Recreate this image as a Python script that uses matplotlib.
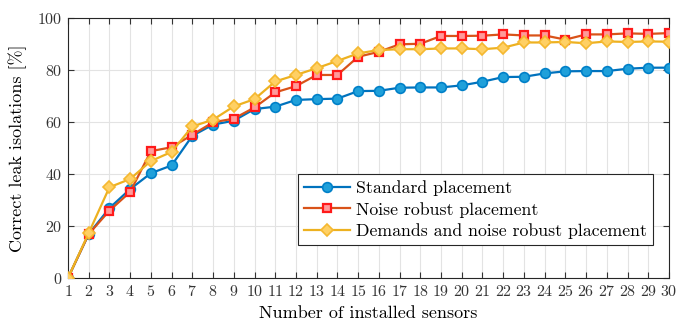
import matplotlib
matplotlib.use('Agg')
import matplotlib.pyplot as plt

sensors = list(range(1, 31))

standard = [0, 16.9, 26.9, 34.2, 40.3, 43.3, 54.7, 59.0, 60.5, 65.0,
            65.9, 68.5, 68.8, 69.0, 71.9, 72.0, 73.2, 73.3, 73.3, 74.1,
            75.5, 77.3, 77.4, 78.7, 79.5, 79.6, 79.6, 80.5, 80.9, 80.9]
noise_robust = [0, 16.9, 25.9, 33.1, 48.8, 50.3, 55.1, 59.9, 61.3, 65.6,
                71.4, 73.8, 78.1, 78.1, 85.1, 87.0, 89.9, 90.1, 93.1, 93.1,
                93.2, 93.7, 93.3, 93.3, 91.7, 93.7, 93.7, 94.1, 93.9, 94.2]
demands_noise = [0, 17.3, 34.9, 38.1, 45.0, 48.5, 58.3, 60.9, 66.0, 68.8,
                 75.6, 78.1, 80.7, 83.5, 86.4, 87.7, 88.0, 88.0, 88.3, 88.3,
                 88.0, 88.6, 90.6, 90.6, 90.8, 90.3, 91.0, 90.8, 91.0, 90.9]

labels = ['Standard placement', 'Noise robust placement',
          'Demands and noise robust placement']

plt.rcParams['font.family'] = ['cmr10', 'DejaVu Serif']
plt.rcParams['mathtext.fontset'] = 'cm'
plt.rcParams['axes.formatter.use_mathtext'] = True

fig = plt.figure(figsize=(6.79, 3.22), dpi=100)
ax = fig.add_axes([0.1001, 0.1366, 0.8852, 0.8074])

ax.plot(sensors, standard, color='#0072BD', lw=1.6, marker='o', ms=7,
        mfc='#1FA0DA', mec='#0080C8', mew=1.2, label=labels[0], zorder=3)
ax.plot(sensors, noise_robust, color='#D95319', lw=1.6, marker='s', ms=6,
        mfc='#FF9A9A', mec='#FF1A1A', mew=1.6, label=labels[1], zorder=3)
ax.plot(sensors, demands_noise, color='#EDB120', lw=1.6, marker='D', ms=6.5,
        mfc='#FFD064', mec='#F5B830', mew=1.2, label=labels[2], zorder=4)

ax.set_xlim(1, 30)
ax.set_ylim(0, 100)
ax.set_xticks(sensors)
ax.set_yticks([0, 20, 40, 60, 80, 100])
ax.grid(True, color='#e3e3e3', lw=0.8)
ax.set_axisbelow(True)
ax.tick_params(direction='in', top=True, right=True, length=4,
               labelsize=11.5, colors='#333333', pad=4)
for s in ax.spines.values():
    s.set_color('#262626')
    s.set_linewidth(0.8)

ax.set_xlabel('Number of installed sensors', fontsize=13, labelpad=5)
ax.set_ylabel('Correct leak isolations [%]', fontsize=13, labelpad=7)

leg = ax.legend(loc='lower right', bbox_to_anchor=(0.974, 0.127),
                fontsize=12.8, fancybox=False, framealpha=1,
                edgecolor='#262626', handlelength=2.6, borderpad=0.35,
                labelspacing=0.3, handletextpad=0.35, borderaxespad=0)
leg.get_frame().set_linewidth(0.8)

fig.savefig('out.png', dpi=100)
